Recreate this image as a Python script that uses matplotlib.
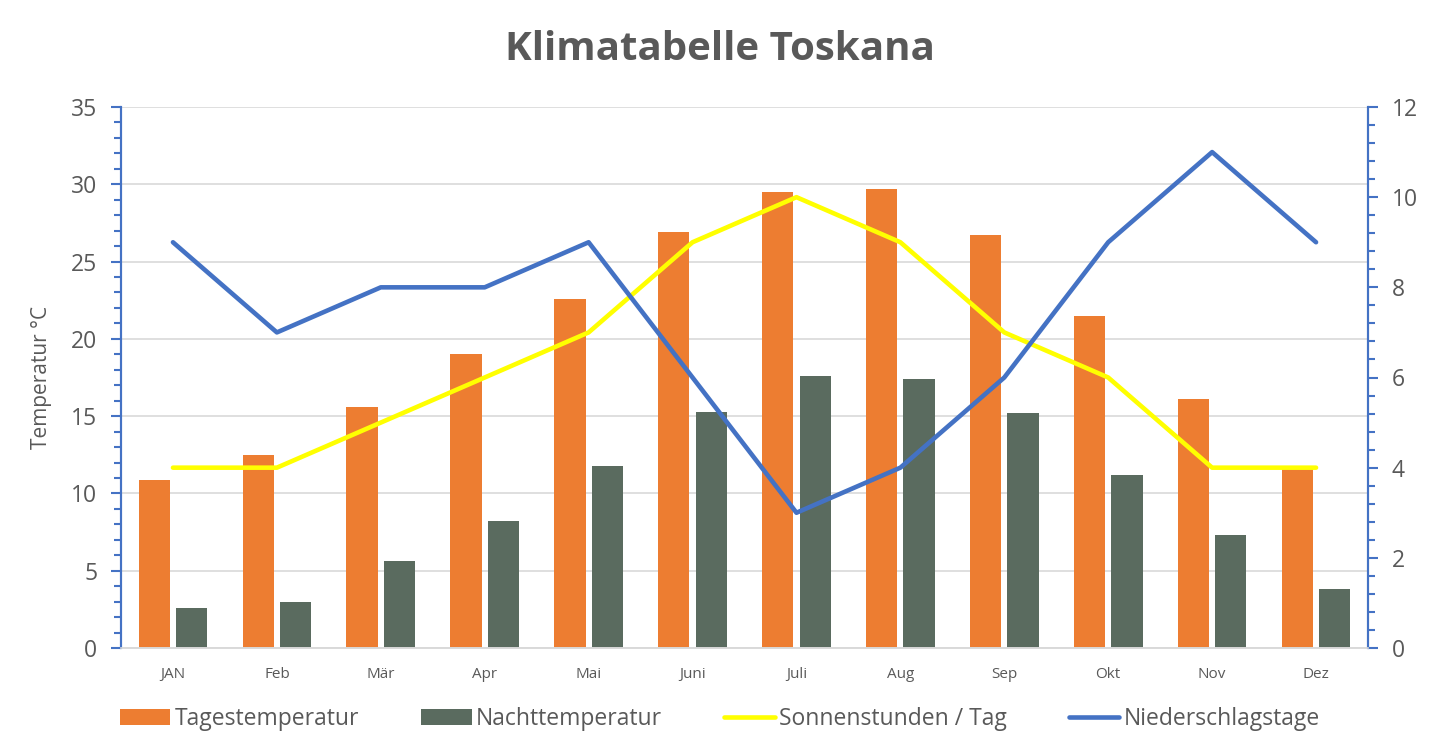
import numpy as np
import matplotlib.pyplot as plt
from matplotlib.ticker import MultipleLocator

months = ['JAN', 'Feb', 'Mär', 'Apr', 'Mai', 'Juni', 'Juli', 'Aug', 'Sep', 'Okt', 'Nov', 'Dez']
tag_temp = [10.9, 12.5, 15.6, 19.0, 22.6, 26.9, 29.5, 29.7, 26.7, 21.5, 16.1, 11.6]
nacht_temp = [2.6, 3.0, 5.6, 8.2, 11.8, 15.3, 17.6, 17.4, 15.2, 11.2, 7.3, 3.8]
sonne = [4, 4, 5, 6, 7, 9, 10, 9, 7, 6, 4, 4]
regen = [9, 7, 8, 8, 9, 6, 3, 4, 6, 9, 11, 9]

grey = '#595959'
blue = '#4472C4'
plt.rcParams['font.family'] = ['Open Sans', 'DejaVu Sans']

fig = plt.figure(figsize=(14.4, 7.56), dpi=100)
ax1 = fig.add_axes([121 / 1440, 1 - 648 / 756, 1247 / 1440, 541 / 756])
ax2 = ax1.twinx()

x = np.arange(len(months))
ax1.bar(x - 0.18, tag_temp, 0.3, color='#ED7D31', label='Tagestemperatur', zorder=2)
ax1.bar(x + 0.18, nacht_temp, 0.3, color='#5A6B5F', label='Nachttemperatur', zorder=2)
ax2.plot(x, sonne, color='#FFFF00', lw=3.3, label='Sonnenstunden / Tag', solid_capstyle='round')
ax2.plot(x, regen, color=blue, lw=3.3, label='Niederschlagstage', solid_capstyle='round')

ax1.set_xlim(-0.5, 11.5)
ax1.set_ylim(0, 35)
ax2.set_ylim(0, 12)
ax1.yaxis.set_major_locator(MultipleLocator(5))
ax1.yaxis.set_minor_locator(MultipleLocator(1))
ax2.yaxis.set_major_locator(MultipleLocator(2))
ax2.yaxis.set_minor_locator(MultipleLocator(0.4))
ax1.grid(axis='y', color='#D9D9D9', lw=1.2, zorder=0)
ax1.set_axisbelow(True)

ax1.set_xticks(x)
ax1.set_xticklabels(months, fontsize=11, color=grey)
ax1.tick_params(axis='x', length=0, pad=14)
for ax in (ax1, ax2):
    ax.tick_params(axis='y', which='both', colors=blue, labelcolor=grey, labelsize=16.5, width=1.5)
    ax.tick_params(axis='y', which='major', length=7)
    ax.tick_params(axis='y', which='minor', length=5)
    ax.spines['top'].set_visible(False)
    ax.spines['bottom'].set_color('#D9D9D9')
    ax.spines['bottom'].set_linewidth(1.2)
    ax.spines['left'].set_color(blue)
    ax.spines['right'].set_color(blue)
    ax.spines['left'].set_linewidth(1.5)
    ax.spines['right'].set_linewidth(1.5)
ax1.tick_params(axis='y', pad=10)
ax2.tick_params(axis='y', pad=10)

ax1.set_ylabel('Temperatur °C', fontsize=15, color=grey, labelpad=14)
fig.suptitle('Klimatabelle Toskana', fontsize=29, fontweight='bold', color=grey, y=0.96)

h1, l1 = ax1.get_legend_handles_labels()
h2, l2 = ax2.get_legend_handles_labels()
fig.legend(h1 + h2, l1 + l2, loc='lower center', ncol=4, frameon=False,
           bbox_to_anchor=(0.5, 0.006), fontsize=16.5, labelcolor=grey,
           handlelength=2.2, handletextpad=0.2, columnspacing=2.7)

fig.savefig('out.png', dpi=100)
